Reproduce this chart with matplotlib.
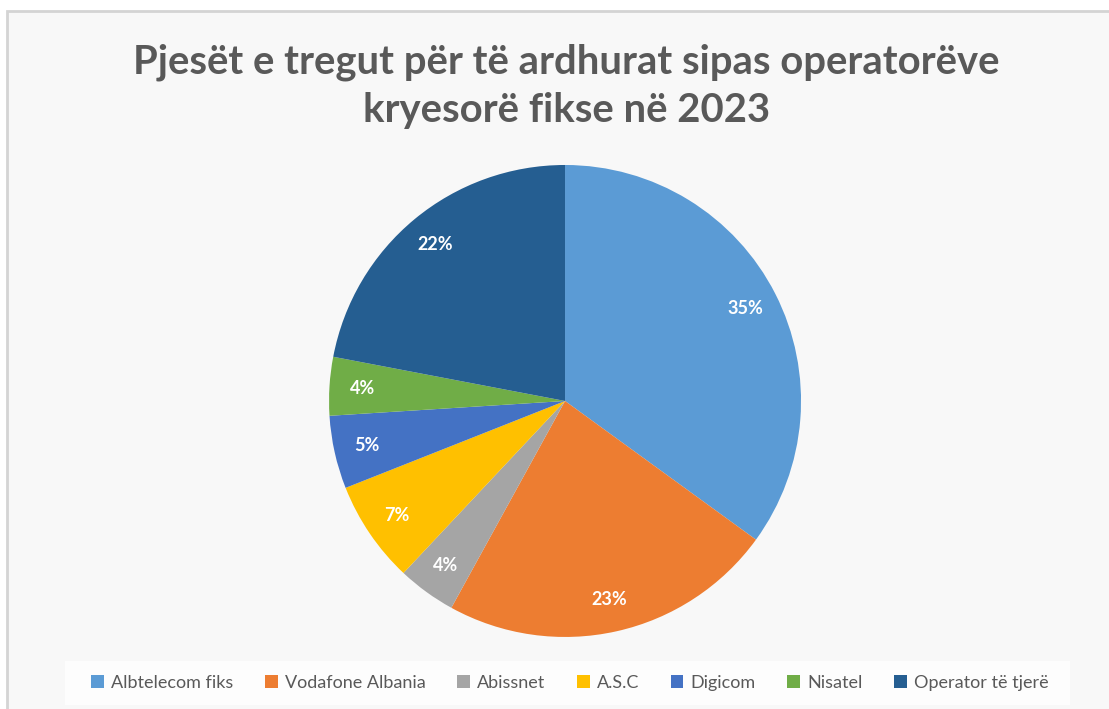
import matplotlib.pyplot as plt
from matplotlib.patches import Rectangle

operators = ['Albtelecom fiks', 'Vodafone Albania', 'Abissnet', 'A.S.C',
             'Digicom', 'Nisatel', 'Operator të tjerë']
shares = [35, 23, 4, 7, 5, 4, 22]
colors = ['#5B9BD5', '#ED7D31', '#A5A5A5', '#FFC000', '#4472C4', '#70AD47', '#255E91']
title = 'Pjesët e tregut për të ardhurat sipas operatorëve\nkryesorë fikse në 2023'

plt.rcParams['font.family'] = ['Lato', 'DejaVu Sans']

fig = plt.figure(figsize=(11.09, 7.09), dpi=100)
fig.patch.set_facecolor('white')

# chart area with light grey border
fig.patches.append(Rectangle((7 / 1109, -0.01), 1.02, 1 - 11 / 709 + 0.01,
                             transform=fig.transFigure, facecolor='#F8F8F8',
                             edgecolor='#D4D4D4', linewidth=2, zorder=-10))
# legend backing
fig.patches.append(Rectangle((65 / 1109, 4 / 709), 1005 / 1109, 44 / 709,
                             transform=fig.transFigure, facecolor='#FDFDFD',
                             edgecolor='none', zorder=-9))

ax = fig.add_axes([0.2967, 0.1016, 0.4256, 0.6657])
ax.set_zorder(5)
wedges, texts, autotexts = ax.pie(
    shares, colors=colors, startangle=90, counterclock=False,
    autopct='%1.0f%%', pctdistance=0.86, radius=1,
    wedgeprops=dict(linewidth=0),
    textprops=dict(color='white', fontsize=13, fontweight='bold'))
ax.set_xlim(-1, 1)
ax.set_ylim(-1, 1)
ax.set_aspect('equal')
ax.axis('off')

fig.text(0.5105, 1 - 86 / 709, title, ha='center', va='center',
         fontsize=28.8, fontweight='bold', color='#595959', linespacing=1.38)

leg = fig.legend(wedges, operators, loc='center', bbox_to_anchor=(0.514, 1 - 683 / 709),
                 ncol=7, frameon=False, fontsize=13, handlelength=0.7,
                 handleheight=0.7, handletextpad=0.4, columnspacing=1.75)
for t in leg.get_texts():
    t.set_color('#595959')

fig.savefig('out.png', dpi=100)
